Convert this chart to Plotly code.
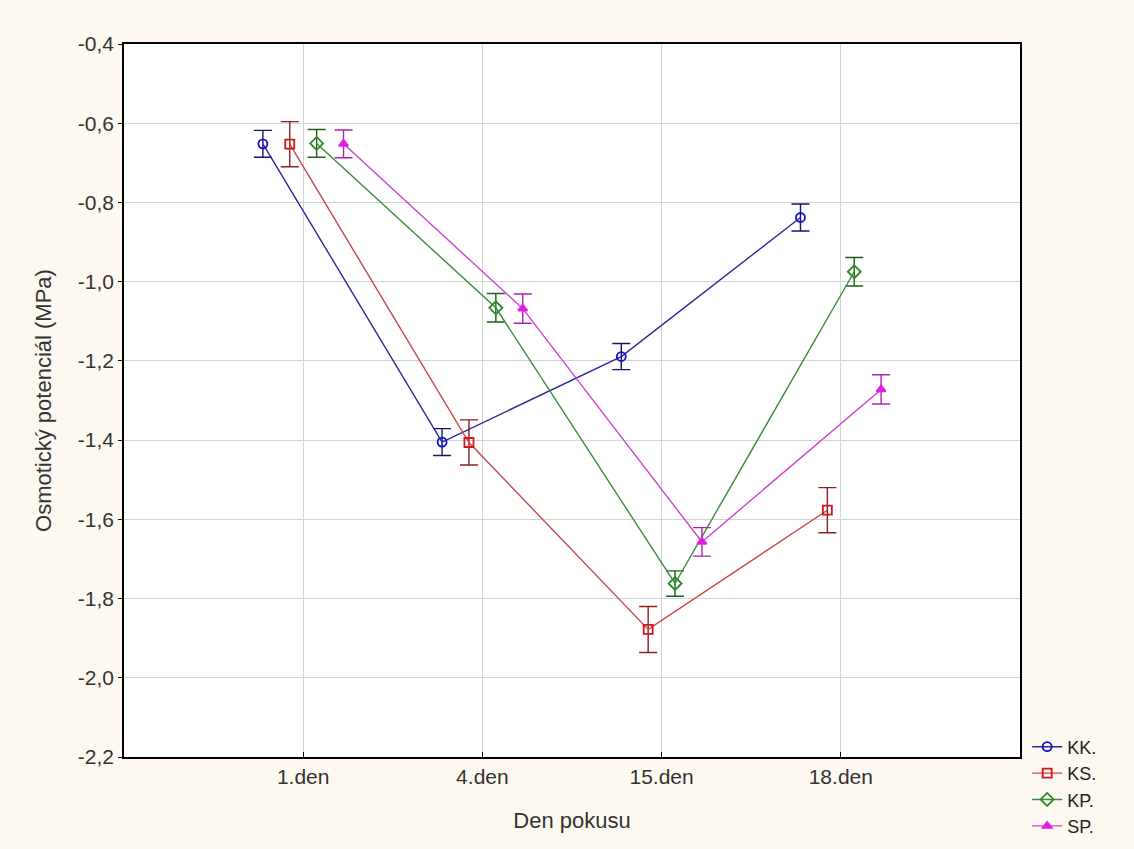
import plotly.graph_objects as go

# Sampling days (categories on the x axis)
days = ["1.den", "4.den", "15.den", "18.den"]

# Mean osmotic potential (MPa) per variant, with error half-widths
kk_mean = [-0.652, -1.405, -1.189, -0.838]
kk_err = [0.034, 0.034, 0.033, 0.034]

ks_mean = [-0.653, -1.406, -1.878, -1.577]
ks_err = [0.057, 0.057, 0.058, 0.057]

kp_mean = [-0.651, -1.066, -1.762, -0.975]
kp_err = [0.035, 0.036, 0.032, 0.036]

sp_mean = [-0.652, -1.068, -1.657, -1.272]
sp_err = [0.035, 0.037, 0.036, 0.037]

series_names = ["KK.", "KS.", "KP.", "SP."]
y_ticks = [-2.2, -2.0, -1.8, -1.6, -1.4, -1.2, -1.0, -0.8, -0.6, -0.4]
# Czech decimal comma with a plain hyphen as the minus sign
y_ticktext = [f"{v:.1f}".replace(".", ",") for v in y_ticks]

# horizontal dodge so the four variants do not overlap at each day
dodge = [-0.225, -0.075, 0.075, 0.225]

styles = [
    dict(line="#2a2a9a", marker="#1010d0", err="#14146e", symbol="circle-open", size=9),
    dict(line="#c84848", marker="#d01818", err="#8a2020", symbol="square-open", size=9),
    dict(line="#3c8c3c", marker="#2a8a2a", err="#1e5e1e", symbol="diamond-open", size=10),
    dict(line="#d040d0", marker="#e020e0", err="#b020b0", symbol="triangle-up", size=8),
]

means = [kk_mean, ks_mean, kp_mean, sp_mean]
errs = [kk_err, ks_err, kp_err, sp_err]

fig = go.Figure()
for name, m, e, off, st in zip(series_names, means, errs, dodge, styles):
    xs = [i + 1 + off for i in range(len(days))]
    fig.add_trace(go.Scatter(
        x=xs, y=m, name=name, mode="lines+markers",
        line=dict(color=st["line"], width=1.4),
        marker=dict(symbol=st["symbol"], size=st["size"], color=st["marker"],
                    line=dict(width=1.8, color=st["marker"])),
        error_y=dict(type="data", array=e, visible=True, thickness=1.4,
                     width=9, color=st["err"]),
    ))

fig.update_layout(
    width=1134, height=849,
    paper_bgcolor="#fdf9f0",
    plot_bgcolor="#ffffff",
    margin=dict(l=124, r=114, t=44, b=92, autoexpand=False),
    font=dict(family="Liberation Sans, Arial, sans-serif", size=20, color="#333333"),
    showlegend=True,
    legend=dict(x=1.008, y=0.04, xanchor="left", yanchor="top",
                bgcolor="rgba(0,0,0,0)", font=dict(size=18, color="#222222"),
                tracegroupgap=0, itemwidth=30),
)

fig.update_xaxes(
    range=[0, 5], tickmode="array", tickvals=[1, 2, 3, 4], ticktext=days,
    showgrid=True, gridcolor="#d4d4d4", gridwidth=1, zeroline=False,
    showline=True, linecolor="#000000", linewidth=1.5, mirror=True,
    ticks="inside", ticklen=5, tickcolor="#000000",
    tickfont=dict(size=21, color="#333333"),
    title=dict(text="Den pokusu", font=dict(size=22, color="#333333"), standoff=26),
)

fig.update_yaxes(
    range=[-2.2, -0.4], tickmode="array", tickvals=y_ticks, ticktext=y_ticktext,
    showgrid=True, gridcolor="#d4d4d4", gridwidth=1, zeroline=False,
    showline=True, linecolor="#000000", linewidth=1.5, mirror=True,
    ticks="outside", ticklen=4, tickcolor="#000000",
    tickfont=dict(size=21, color="#333333"),
    title=dict(text="Osmotický potenciál (MPa)", font=dict(size=22, color="#333333"), standoff=20),
)

fig.write_html("out.html")
